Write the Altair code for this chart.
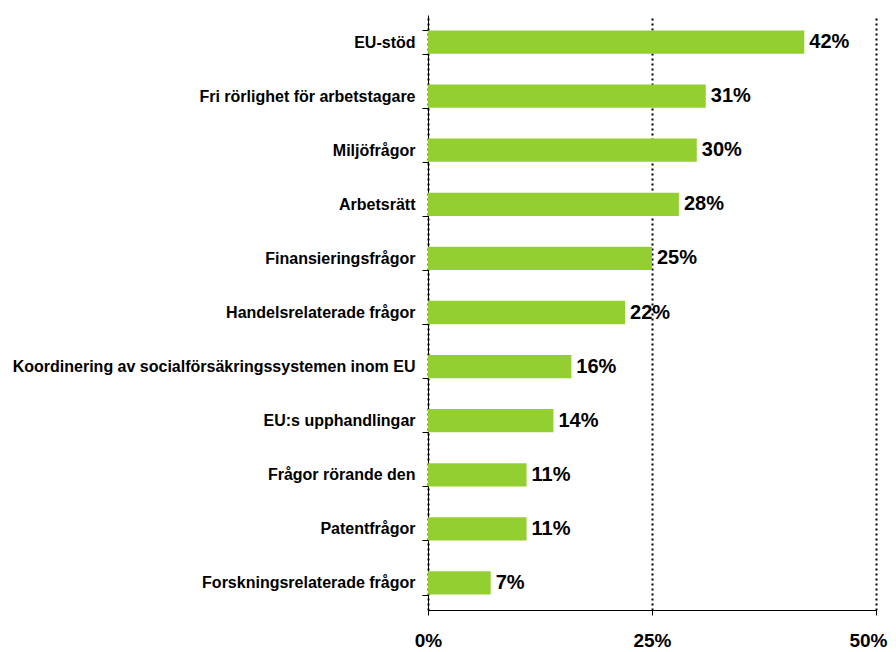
import altair as alt
import pandas as pd

categories = [
    "EU-stöd",
    "Fri rörlighet för arbetstagare",
    "Miljöfrågor",
    "Arbetsrätt",
    "Finansieringsfrågor",
    "Handelsrelaterade frågor",
    "Koordinering av socialförsäkringssystemen inom EU",
    "EU:s upphandlingar",
    "Frågor rörande den",
    "Patentfrågor",
    "Forskningsrelaterade frågor",
]
values = [0.42, 0.31, 0.30, 0.28, 0.25, 0.22, 0.16, 0.14, 0.11, 0.11, 0.07]
labels = ["42%", "31%", "30%", "28%", "25%", "22%", "16%", "14%", "11%", "11%", "7%"]
x_ticks = [0, 0.25, 0.5]

df = pd.DataFrame({"cat": categories, "val": values, "lab": labels})

FONT = "Liberation Sans"

y_enc = alt.Y(
    "cat:N",
    sort=categories,
    title=None,
    scale=alt.Scale(paddingInner=0.57, paddingOuter=0.285),
    axis=alt.Axis(
        tickBand="extent",
        tickSize=6,
        tickColor="black",
        domainColor="black",
        labelFont=FONT,
        labelFontWeight="bold",
        labelFontSize=16,
        labelColor="black",
        labelPadding=7,
        labelLimit=600,
        grid=False,
    ),
)

x_enc = alt.X(
    "val:Q",
    title=None,
    scale=alt.Scale(domain=[0, 0.5], nice=False),
    axis=alt.Axis(
        values=x_ticks,
        format=".0%",
        tickSize=5,
        tickColor="black",
        domainColor="black",
        labelFont=FONT,
        labelFontWeight="bold",
        labelFontSize=19,
        labelColor="black",
        labelPadding=16,
        labelFlush=False,
        labelAlign=alt.condition("datum.value >= 0.5", alt.value("right"), alt.value("center")),
        labelOffset=alt.condition("datum.value >= 0.5", alt.value(11), alt.value(0)),
        grid=True,
        gridColor="black",
        gridDash=[2, 3],
        gridWidth=2,
    ),
)

bars = alt.Chart(df).mark_bar(color="#94CF31").encode(x=x_enc, y=y_enc)

text = alt.Chart(df).mark_text(
    align="left",
    baseline="middle",
    dx=5,
    font=FONT,
    fontWeight="bold",
    fontSize=20,
    color="black",
).encode(
    x=alt.X("val:Q"),
    y=alt.Y("cat:N", sort=categories),
    text="lab:N",
)

chart = (
    alt.layer(bars, text)
    .properties(
        width=448,
        height=595,
        autosize=alt.AutoSizeParams(type="none"),
        padding={"left": 420, "top": 7, "right": 12, "bottom": 40},
        background="white",
    )
    .configure_view(stroke=None)
    .configure_axisX(gridOpacity=1)
)

chart.save("out.html", embed_options={"renderer": "svg", "actions": False})
